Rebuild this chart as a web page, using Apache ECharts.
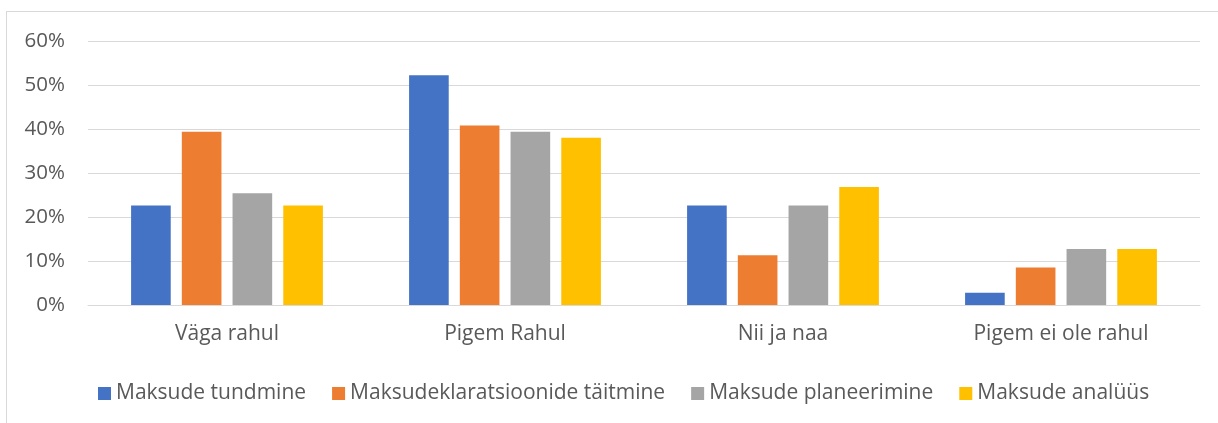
<!DOCTYPE html>
<html>
<head>
<meta charset="utf-8">
<script src="https://cdn.jsdelivr.net/npm/echarts@6/dist/echarts.min.js"></script>
<style>
    html, body { margin: 0; padding: 0; background: #fff; }
    #frame { position: absolute; left: 6px; top: 11px; width: 1230px; height: 430px;
             border: 1px solid #D9D9D9; box-sizing: border-box; }
    #chart { position: absolute; left: 0; top: 0; width: 1218px; height: 423px; }
</style>
</head>
<body>
<div id="frame"></div>
<div id="chart"></div>
<script>
var categories = ['Väga rahul', 'Pigem Rahul', 'Nii ja naa', 'Pigem ei ole rahul'];
var seriesNames = ['Maksude tundmine', 'Maksudeklaratsioonide täitmine', 'Maksude planeerimine', 'Maksude analüüs'];
var tundmine = [22.6, 52.2, 22.6, 2.8];
var taitmine = [39.4, 40.8, 11.3, 8.5];
var planeerimine = [25.4, 39.4, 22.6, 12.7];
var analyys = [22.6, 38.0, 26.8, 12.7];
var colors = ['#4472C4', '#ED7D31', '#A5A5A5', '#FFC000'];

var dom = document.getElementById('chart');
var myChart = echarts.init(dom);
var textColor = '#595959';
var font = '"Open Sans", "Noto Sans", sans-serif';

var values = [tundmine, taitmine, planeerimine, analyys];
var series = [];
for (var i = 0; i < seriesNames.length; i++) {
    series.push({
        name: seriesNames[i],
        type: 'bar',
        data: values[i],
        barGap: '28%',
        barCategoryGap: '31%',
        itemStyle: { color: colors[i] }
    });
}

var option = {
    animation: false,
    color: colors,
    legend: {
        data: seriesNames,
        top: 378,
        left: 93,
        itemWidth: 13,
        itemHeight: 13,
        itemGap: 26,
        icon: 'rect',
        textStyle: { color: textColor, fontSize: 21, fontFamily: font, padding: [0, 0, 0, 0] }
    },
    grid: { left: 88, right: 18, top: 41, bottom: 118 },
    xAxis: {
        type: 'category',
        data: categories,
        axisLine: { lineStyle: { color: '#D9D9D9', width: 1 } },
        axisTick: { show: false },
        axisLabel: { color: textColor, fontSize: 21, fontFamily: font, margin: 19 }
    },
    yAxis: {
        type: 'value',
        min: 0,
        max: 60,
        interval: 10,
        axisLine: { show: false },
        axisTick: { show: false },
        splitLine: { lineStyle: { color: '#D9D9D9', width: 1 } },
        axisLabel: {
            color: textColor, fontSize: 20.5, fontFamily: font, margin: 23,
            formatter: '{value}%'
        }
    },
    series: series
};
myChart.setOption(option, true);
</script>
</body>
</html>
